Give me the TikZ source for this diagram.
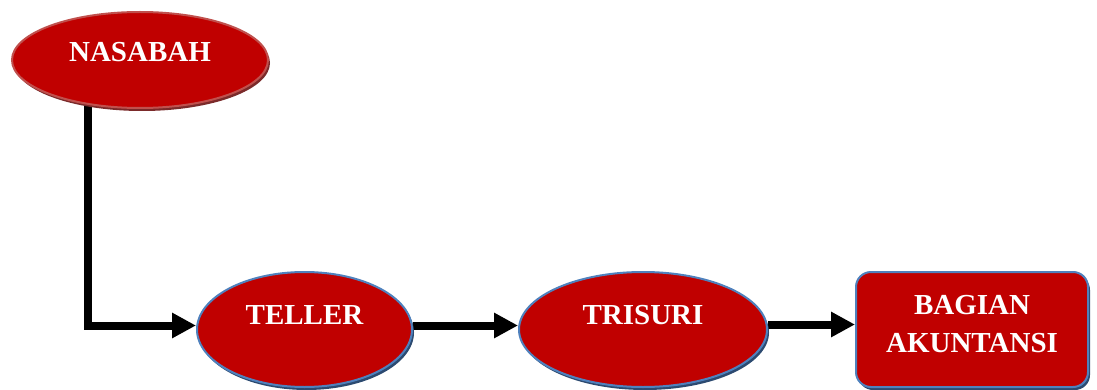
\documentclass[tikz,border=0pt]{standalone}
\usepackage{fontspec}
\setmainfont{Liberation Serif}
\usetikzlibrary{shapes.geometric,arrows.meta,shadows,backgrounds}
\definecolor{boxred}{HTML}{C00000}
\definecolor{rededge}{HTML}{C0504D}
\definecolor{redshade}{HTML}{7B2A2A}
\definecolor{blueedge}{HTML}{4F81BD}
\definecolor{blueshade}{HTML}{2C4A70}
\tikzset{
  x=1pt, y=1pt,
  redoval/.style={ellipse, fill=boxred, draw=rededge, line width=2pt, inner sep=0pt,
    drop shadow={shadow xshift=2pt, shadow yshift=-3pt, fill=redshade, opacity=1}},
  blueoval/.style={ellipse, fill=boxred, draw=blueedge, line width=2pt, inner sep=0pt,
    drop shadow={shadow xshift=2pt, shadow yshift=-3pt, fill=blueshade, opacity=1}},
  bluebox/.style={rectangle, rounded corners=15pt, fill=boxred, draw=blueedge, line width=2pt, inner sep=0pt,
    drop shadow={shadow xshift=2pt, shadow yshift=-3pt, fill=blueshade, opacity=1}},
  label/.style={text=white, font=\fontsize{29}{38}\selectfont\bfseries, align=center, inner sep=0pt},
  flow/.style={line width=8pt, -{Triangle[length=24pt, width=24pt]}}
}
\begin{document}
\begin{tikzpicture}
\useasboundingbox (0,0) rectangle (1097,389);

% nodes
\node[redoval, minimum width=256pt, minimum height=96pt] (nasabah) at (140,329) {};
\node[label] (nasabahT) at (140,337) {NASABAH};

\node[blueoval, minimum width=215pt, minimum height=115pt] (teller) at (304.5,59.5) {};
\node[label] (tellerT) at (304.5,74) {TELLER};

\node[blueoval, minimum width=248pt, minimum height=115pt] (trisuri) at (643,59.5) {};
\node[label] (trisuriT) at (643,74) {TRISURI};

\node[bluebox, minimum width=232pt, minimum height=115pt] (akun) at (972,59.5) {};
\node[label] (akunT) at (972,65) {BAGIAN\\AKUNTANSI};

% connectors, kept behind the shapes
\begin{scope}[on background layer]
  \draw[flow] ([xshift=-52.5pt]nasabah.center) |- ([yshift=4pt]teller.west);
  \draw[flow] ([yshift=4pt]teller.east) -- ([yshift=4pt]trisuri.west);
  \draw[flow] ([yshift=5pt]trisuri.east) -- ([yshift=5pt]akun.west);
\end{scope}
\end{tikzpicture}
\end{document}
